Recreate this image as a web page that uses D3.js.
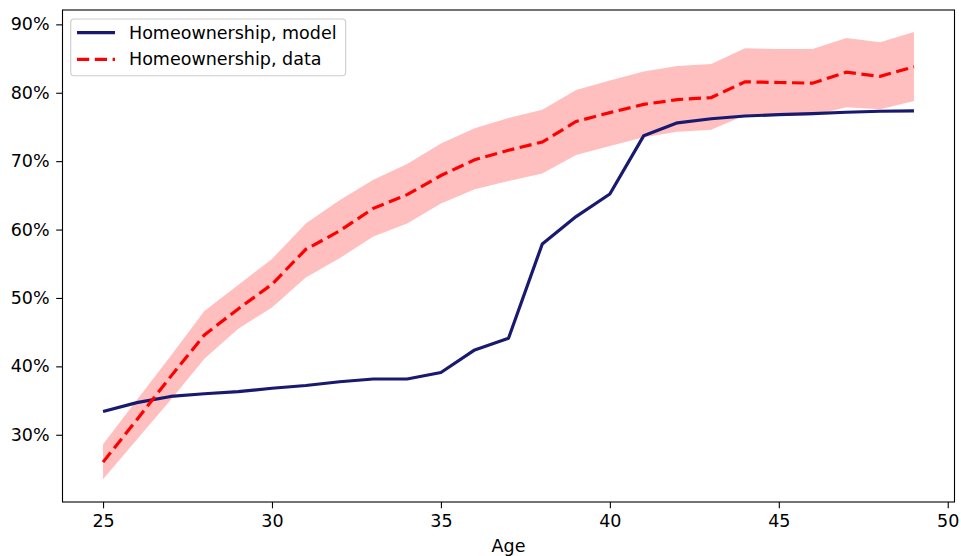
<!DOCTYPE html>
<html>
<head>
<meta charset="utf-8">
<script src="https://cdn.jsdelivr.net/npm/d3@7"></script>
<style>
  html, body { margin: 0; padding: 0; background: #ffffff; }
  svg { display: block; font-family: "DejaVu Sans", sans-serif; }
</style>
</head>
<body>
<svg id="chart" width="961" height="556"></svg>
<script>
// Age in years
const ages = [25, 26, 27, 28, 29, 30, 31, 32, 33, 34, 35, 36, 37, 38, 39, 40, 41, 42, 43, 44, 45, 46, 47, 48, 49];
// Homeownership rate (%) produced by the model
const modelRate = [33.4, 34.7, 35.6, 36.0, 36.3, 36.8, 37.2, 37.75, 38.15, 38.15, 39.1, 42.4, 44.1, 57.9, 61.9, 65.2, 73.7, 75.6, 76.2, 76.6, 76.8, 76.95, 77.15, 77.3, 77.35];
// Homeownership rate (%) observed in the data, with its confidence band
const dataRate = [26.0, 32.2, 38.5, 44.6, 48.4, 52.0, 57.1, 59.8, 63.1, 65.1, 67.9, 70.2, 71.6, 72.8, 75.8, 77.1, 78.3, 79.0, 79.3, 81.6, 81.5, 81.4, 83.0, 82.4, 83.8];
const dataUpper = [28.6, 35.1, 41.5, 48.1, 51.9, 55.7, 60.9, 64.3, 67.3, 69.6, 72.6, 74.8, 76.3, 77.5, 80.4, 81.8, 83.1, 83.9, 84.2, 86.5, 86.4, 86.4, 88.0, 87.4, 88.9];
const dataLower = [23.5, 29.3, 35.1, 41.1, 45.5, 48.6, 53.0, 55.8, 59.0, 60.9, 63.8, 65.9, 67.1, 68.2, 70.9, 72.2, 73.5, 74.3, 74.6, 76.7, 76.6, 76.7, 77.9, 77.6, 78.8];
// Axis ticks
const xTicks = [25, 30, 35, 40, 45, 50];
const yTicks = [30, 40, 50, 60, 70, 80, 90];
const seriesNames = ["Homeownership, model", "Homeownership, data"];

const svg = d3.select("#chart");
const plotLeft = 62.5, plotRight = 954.5, plotTop = 10, plotBottom = 502;
const fontSize = "17.5px";
const lineWidth = 3.2;
const dashPattern = "12.2,5.6";

const x = d3.scaleLinear().domain([23.8, 50.2]).range([plotLeft, plotRight]);
const y = d3.scaleLinear().domain([20.17, 92.1]).range([plotBottom, plotTop]);

const rows = ages.map((a, i) => ({
  age: a, model: modelRate[i], data: dataRate[i], lo: dataLower[i], hi: dataUpper[i]
}));

const plot = svg.append("g");

// Confidence band around the data
plot.append("path")
  .datum(rows)
  .attr("fill", "#ffbfbf")
  .attr("stroke", "none")
  .attr("d", d3.area().x(d => x(d.age)).y0(d => y(d.lo)).y1(d => y(d.hi)));

// Model line
plot.append("path")
  .datum(rows)
  .attr("fill", "none")
  .attr("stroke", "#191970")
  .attr("stroke-width", lineWidth)
  .attr("stroke-linejoin", "round")
  .attr("d", d3.line().x(d => x(d.age)).y(d => y(d.model)));

// Data line (dashed)
plot.append("path")
  .datum(rows)
  .attr("fill", "none")
  .attr("stroke", "#ff0000")
  .attr("stroke-width", lineWidth)
  .attr("stroke-dasharray", dashPattern)
  .attr("d", d3.line().x(d => x(d.age)).y(d => y(d.data)));

// Axes
const xAxis = svg.append("g")
  .attr("transform", `translate(0,${plotBottom})`)
  .call(d3.axisBottom(x).tickValues(xTicks).tickFormat(d3.format("d")).tickSize(6.3).tickPadding(6.2));
const yAxis = svg.append("g")
  .attr("transform", `translate(${plotLeft},0)`)
  .call(d3.axisLeft(y).tickValues(yTicks).tickFormat(d => d + "%").tickSize(6.3).tickPadding(6.6));

[xAxis, yAxis].forEach(g => {
  g.select(".domain").remove();
  g.selectAll(".tick line").attr("stroke", "#000").attr("stroke-width", 1.1);
  g.selectAll(".tick text").attr("fill", "#000").attr("font-size", fontSize)
    .attr("font-family", "DejaVu Sans, sans-serif");
});

// Frame around the plot area
svg.append("rect")
  .attr("x", plotLeft).attr("y", plotTop)
  .attr("width", plotRight - plotLeft).attr("height", plotBottom - plotTop)
  .attr("fill", "none").attr("stroke", "#000").attr("stroke-width", 1.1);

// Axis title
svg.append("text")
  .attr("x", (plotLeft + plotRight) / 2).attr("y", 552)
  .attr("text-anchor", "middle")
  .attr("font-size", fontSize)
  .attr("fill", "#000")
  .text("Age");

// Legend
const legend = svg.append("g");
legend.append("rect")
  .attr("x", 70.7).attr("y", 19).attr("width", 275).attr("height", 56.7)
  .attr("rx", 3.5).attr("ry", 3.5)
  .attr("fill", "#ffffff").attr("fill-opacity", 0.8)
  .attr("stroke", "#cccccc").attr("stroke-width", 1.1);

const legendItems = [
  { name: seriesNames[0], color: "#191970", dash: null, yPos: 32.7 },
  { name: seriesNames[1], color: "#ff0000", dash: dashPattern, yPos: 59.3 }
];
legendItems.forEach(it => {
  legend.append("line")
    .attr("x1", 77).attr("x2", 115)
    .attr("y1", it.yPos).attr("y2", it.yPos)
    .attr("stroke", it.color).attr("stroke-width", lineWidth)
    .attr("stroke-dasharray", it.dash);
  legend.append("text")
    .attr("x", 129).attr("y", it.yPos)
    .attr("dy", "0.35em")
    .attr("font-size", fontSize)
    .attr("fill", "#000")
    .text(it.name);
});
</script>
</body>
</html>
